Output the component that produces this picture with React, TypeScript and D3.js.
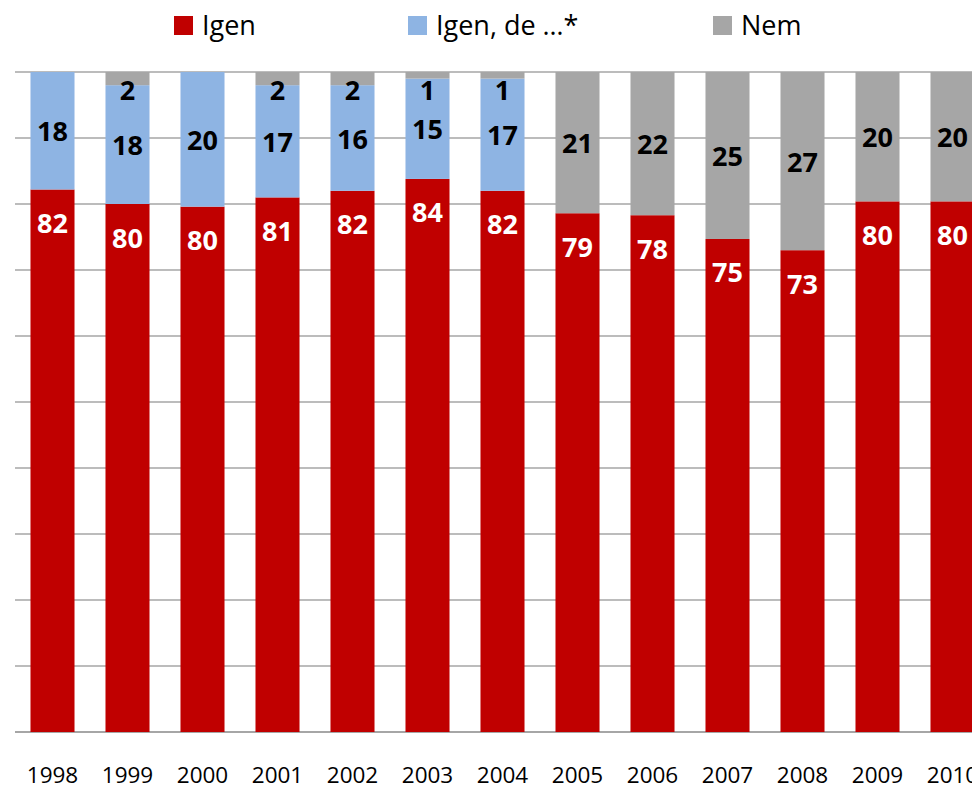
import React from 'react';
import * as d3 from 'd3';

// years and shares (%)
const years = ['1998', '1999', '2000', '2001', '2002', '2003', '2004', '2005', '2006', '2007', '2008', '2009', '2010'];
const igen = [82.2, 80.0, 79.6, 81.0, 82.0, 83.8, 82.0, 78.6, 78.3, 74.7, 73.0, 80.4, 80.4];
const igenDe = [17.8, 18.0, 20.4, 17.0, 16.0, 15.2, 17.0, 0, 0, 0, 0, 0, 0];
const nem = [0, 2.0, 0, 2.0, 2.0, 1.0, 1.0, 21.4, 21.7, 25.3, 27.0, 19.6, 19.6];
const seriesNames = ['Igen', 'Igen, de …*', 'Nem'];
const gridTicks = [0, 10, 20, 30, 40, 50, 60, 70, 80, 90, 100];

const colors = ['#C00000', '#8EB4E3', '#A6A6A6'];
const labelColors = ['#ffffff', '#000000', '#000000'];
const font = '"Open Sans", Lato, sans-serif';

export default function App() {
  const width = 972;
  const height = 789;

  const x = d3.scaleBand()
    .domain(years)
    .range([15, 15 + years.length * 75])
    .paddingInner(0.413)
    .paddingOuter(0.2065);

  const y = d3.scaleLinear().domain([0, 100]).range([732, 72]);

  const rows = years.map((yr, i) => ({ year: yr, igen: igen[i], igenDe: igenDe[i], nem: nem[i] }));
  const stack = d3.stack<any>().keys(['igen', 'igenDe', 'nem'])(rows);

  const legendX = [174, 408, 713];

  return (
    <svg width={width} height={height} style={{ position: 'absolute', left: 0, top: 0 }}>
      <rect width={width} height={height} fill="#fff" />
      {/* gridlines */}
      {gridTicks.map(t => (
        <line key={t} x1={15} x2={width} y1={y(t)} y2={y(t)} stroke="#A6A6A6" strokeWidth={t === 0 ? 2 : 1.5} />
      ))}

      {/* bars */}
      {stack.map((layer, si) => (
        <g key={si}>
          {layer.map((d, i) => {
            const v = d[1] - d[0];
            if (v <= 0) return null;
            return (
              <rect key={i} x={x(years[i])} y={y(d[1])} width={x.bandwidth()}
                    height={y(d[0]) - y(d[1])} fill={colors[si]} />
            );
          })}
        </g>
      ))}

      {/* value labels */}
      {stack.map((layer, si) => (
        <g key={'l' + si}>
          {layer.map((d, i) => {
            const v = d[1] - d[0];
            if (v <= 0) return null;
            const top = y(d[1]);
            let cy;
            if (si === 0) cy = top + 33;
            else cy = Math.max((y(d[0]) + top) / 2, top + 17);
            return (
              <text key={i} x={(x(years[i]) as number) + x.bandwidth() / 2} y={cy}
                    textAnchor="middle" dominantBaseline="central"
                    fontFamily={font} fontWeight="bold" fontSize={27} fill={labelColors[si]}>
                {Math.round(v)}
              </text>
            );
          })}
        </g>
      ))}

      {/* x axis labels */}
      {years.map(yr => (
        <text key={yr} x={(x(yr) as number) + x.bandwidth() / 2} y={783}
              textAnchor="middle" fontFamily={font} fontSize={22.5} fill="#000">
          {yr}
        </text>
      ))}

      {/* legend */}
      {seriesNames.map((name, i) => (
        <g key={name}>
          <rect x={legendX[i]} y={16} width={19} height={19} fill={colors[i]} />
          <text x={legendX[i] + 28} y={35} fontFamily={font} fontSize={27} fill="#000">{name}</text>
        </g>
      ))}
    </svg>
  );
}
